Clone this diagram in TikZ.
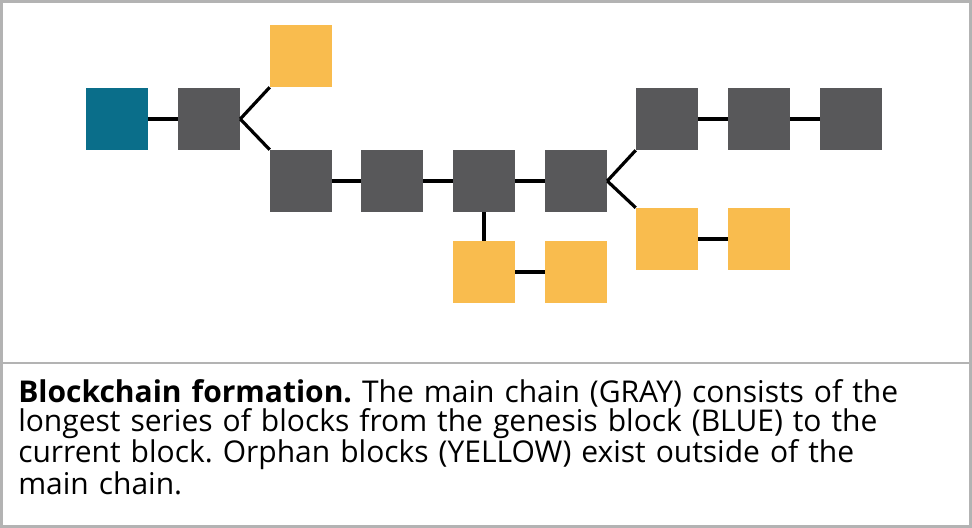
\documentclass[tikz,border=0pt]{standalone}
\usepackage{fontspec}
\setmainfont{Open Sans}
\definecolor{blk}{HTML}{58585A}
\definecolor{gen}{HTML}{0A6E8A}
\definecolor{orph}{HTML}{F9BC4E}
\definecolor{frame}{HTML}{B3B3B3}
\begin{document}
\begin{tikzpicture}[x=0.75pt,y=-0.75pt,
  blockbox/.style={minimum width=62*0.75pt,minimum height=62*0.75pt,inner sep=0pt,draw=none},
  g/.style={blockbox,fill=blk},
  o/.style={blockbox,fill=orph},
  b/.style={blockbox,fill=gen},
  link/.style={line width=2.4pt,black}]
\useasboundingbox (0,0) rectangle (972,528);
\draw[frame,line width=2.2pt] (1.5,1.5) rectangle (970.5,526.5);
\draw[frame,line width=2.2pt] (1.5,363) -- (970.5,363);
\node[b] (gen) at (117,119) {};
\node[g] (g1) at (209,119) {};
\node[o] (o1) at (301,56) {};
\node[g] (g2) at (301,181) {};
\node[g] (g3) at (392,181) {};
\node[g] (g4) at (484,181) {};
\node[g] (g5) at (576,181) {};
\node[o] (o2) at (484,272) {};
\node[o] (o3) at (576,272) {};
\node[g] (g6) at (667,119) {};
\node[g] (g7) at (759,119) {};
\node[g] (g8) at (851,119) {};
\node[o] (o4) at (667,239) {};
\node[o] (o5) at (759,239) {};
\draw[link] (gen.east) -- (g1.west);
\draw[link] (g1.east) -- (o1.south west);
\draw[link] (g1.east) -- (g2.north west);
\draw[link] (g2.east) -- (g3.west);
\draw[link] (g3.east) -- (g4.west);
\draw[link] (g4.east) -- (g5.west);
\draw[link] (g4.south) -- (o2.north);
\draw[link] (o2.east) -- (o3.west);
\draw[link] (g5.east) -- (g6.south west);
\draw[link] (g5.east) -- (o4.north west);
\draw[link] (g6.east) -- (g7.west);
\draw[link] (g7.east) -- (g8.west);
\draw[link] (o4.east) -- (o5.west);
\node[anchor=north west,align=left,inner sep=0pt,text width=945*0.75pt,
  font=\fontsize{22.5pt}{21.8pt}\selectfont\frenchspacing] (cap) at (18,379)
  {\textbf{Blockchain formation.} The main chain (GRAY) consists of the\\
   longest series of blocks from the genesis block (BLUE) to the\\
   current block. Orphan blocks (YELLOW) exist outside of the\\
   main chain.};
\end{tikzpicture}
\end{document}
